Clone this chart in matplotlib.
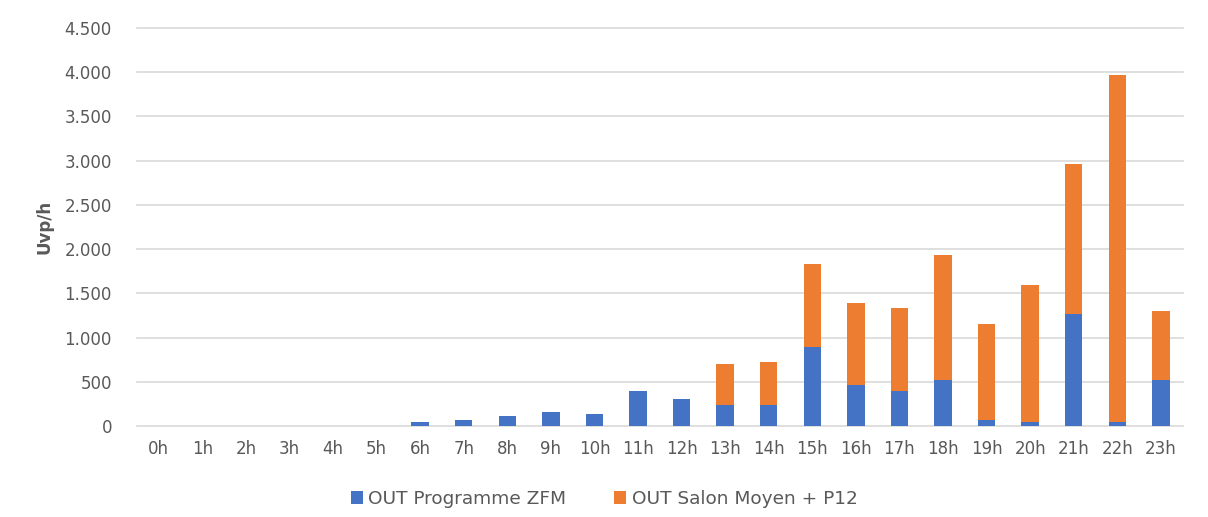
import numpy as np
import matplotlib
matplotlib.use("Agg")
import matplotlib.pyplot as plt
from matplotlib.ticker import FuncFormatter, MultipleLocator

hours = [f"{h}h" for h in range(24)]
programme_zfm = [0, 0, 0, 0, 0, 0, 46, 69, 111, 153, 134, 397,
                 305, 238, 238, 897, 460, 392, 524, 68, 45, 1267, 45, 524]
salon_moyen = [0, 0, 0, 0, 0, 0, 0, 0, 0, 0, 0, 0,
               0, 459, 482, 932, 935, 939, 1414, 1086, 1546, 1696, 3921, 780]

blue = "#4472C4"
orange = "#ED7D31"
text_color = "#595959"
grid_color = "#D9D9D9"

plt.rcParams['font.family'] = ['DejaVu Sans']

fig = plt.figure(figsize=(12.08, 5.17), dpi=100)
ax = fig.add_axes([0.1134, 0.176, 0.979 - 0.1134, 0.946 - 0.176])

x = np.arange(len(hours))
ax.bar(x, programme_zfm, width=0.4, color=blue, label="OUT Programme ZFM", zorder=3)
ax.bar(x, salon_moyen, width=0.4, bottom=programme_zfm, color=orange,
       label="OUT Salon Moyen + P12", zorder=3)

ax.set_ylim(0, 4500)
ax.set_xlim(-0.5, len(hours) - 0.5)
ax.yaxis.set_major_locator(MultipleLocator(500))
ax.yaxis.set_major_formatter(FuncFormatter(lambda v, p: f"{int(v):,}".replace(",", ".")))
ax.set_xticks(x)
ax.set_xticklabels(hours)

ax.grid(axis='y', color=grid_color, linewidth=1.2, zorder=0)
for gl in ax.get_ygridlines():
    gl.set_clip_on(False)
for s in ax.spines.values():
    s.set_visible(False)
ax.tick_params(axis='both', length=0, labelsize=12, colors=text_color)
ax.tick_params(axis='y', pad=18)
ax.tick_params(axis='x', pad=10)

ax.set_ylabel("Uvp/h", fontsize=12, fontweight='bold', color=text_color, labelpad=8)

fig.legend(loc='lower center', bbox_to_anchor=(0.5, -0.015), ncol=2, frameon=False,
           fontsize=13.3, labelcolor=text_color, handlelength=0.65, handleheight=0.65,
           handletextpad=0.3, columnspacing=2.6)

fig.savefig("out.png", dpi=100)
